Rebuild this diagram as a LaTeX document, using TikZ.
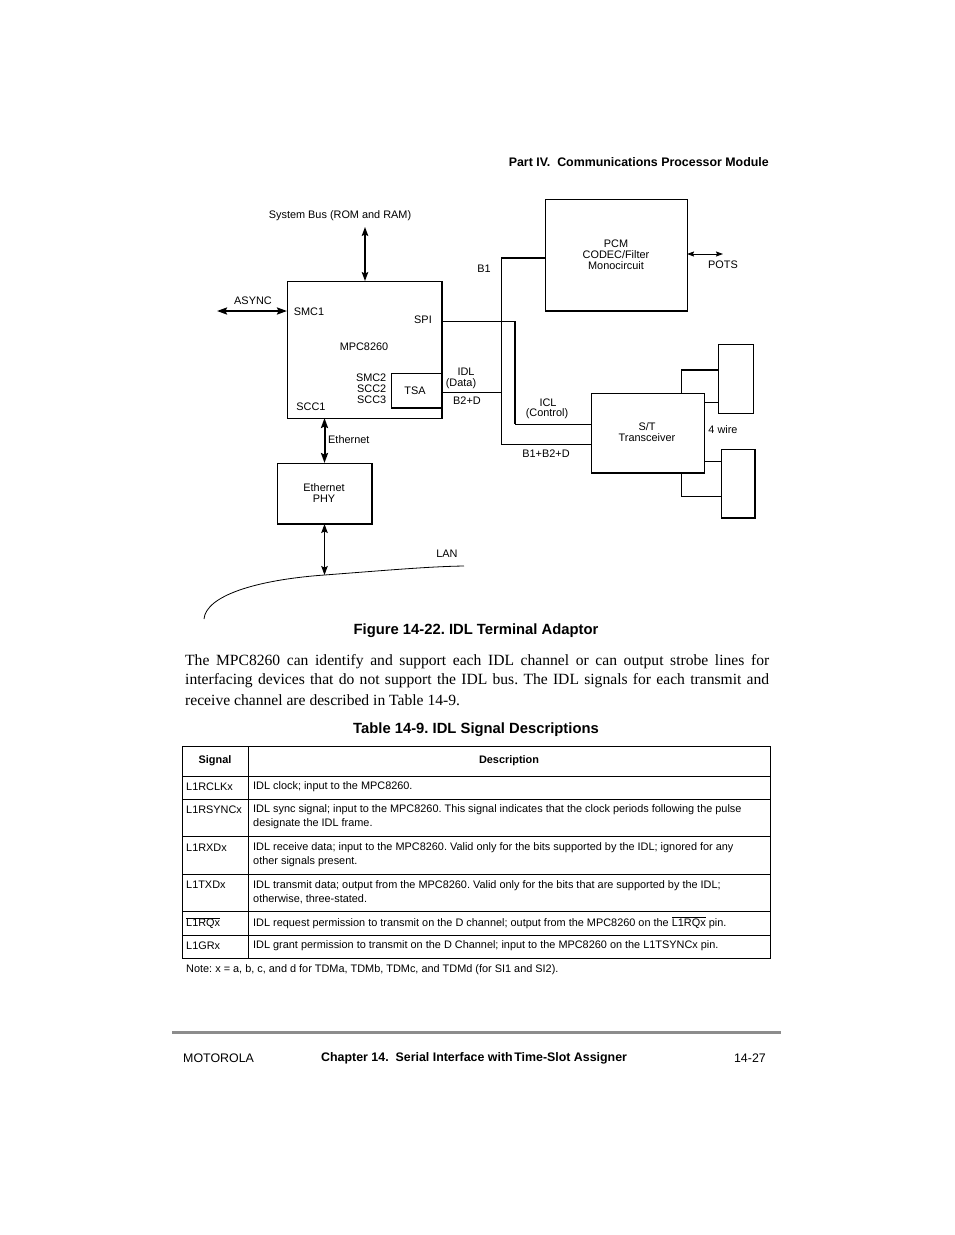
\documentclass[tikz,border=0pt]{standalone}
\usepackage{fontspec}
\setmainfont{Liberation Serif}
\setsansfont{Liberation Sans}
\usetikzlibrary{arrows.meta}
\frenchspacing
\newcommand\dfont{\sffamily\fontsize{10.9}{11}\selectfont}
\newcommand\tfont{\sffamily\fontsize{10.9}{14}\selectfont}
\newcommand\capfont{\sffamily\bfseries\fontsize{14.8}{16}\selectfont}
\newcommand\hfont{\sffamily\fontsize{12.4}{14}\selectfont}
\newcommand\bodyfont{\rmfamily\fontsize{15.6}{19}\selectfont}
\newcommand\ovl[1]{$\overline{\hbox{#1}}$}
\begin{document}
\begin{tikzpicture}[x=1pt,y=-1pt,
  box/.style={draw, line width=1pt, inner sep=0pt, outer sep=0pt},
  lbl/.style={font=\dfont, inner sep=0pt, align=center, yshift=-1pt},
  wire/.style={line width=1pt},
  heavy/.style={line width=2pt},
  dbl/.style={{Stealth[length=9pt,width=6.5pt,inset=1.5pt]}-{Stealth[length=9pt,width=6.5pt,inset=1.5pt]}, line width=1.3pt},
  dblthick/.style={{Stealth[length=10pt,width=7pt,inset=1.5pt]}-{Stealth[length=10pt,width=7pt,inset=1.5pt]}, line width=2pt},
  dblsmall/.style={{Stealth[length=7pt,width=5pt,inset=1pt]}-{Stealth[length=7pt,width=5pt,inset=1pt]}, line width=1pt},
  tline/.style={line width=0.9pt},
  ttext/.style={font=\tfont, inner sep=0pt, anchor=west, align=left, yshift=-1pt},
]
\useasboundingbox[fill=white] (0,0) rectangle (954,1235);

% ---------- header ----------
\node[font=\hfont\bfseries, inner sep=0pt, anchor=east, yshift=-1pt] (hdr) at (769,161) {Part IV.\ \ Communications Processor Module};

% ---------- diagram boxes ----------
\node[box, minimum width=155, minimum height=137] (mpc) at (364.5,349.5) {};
\node[box, minimum width=51, minimum height=35] (tsa) at (416.5,390.5) {};
\node[box, minimum width=142, minimum height=112] (pcm) at (616,255) {};
\node[box, minimum width=113, minimum height=80] (st) at (647.5,433) {};
\node[box, minimum width=95, minimum height=61] (phy) at (324.5,493.5) {};
\node[box, minimum width=35, minimum height=69] (ra) at (735.5,378.5) {};
\node[box, minimum width=34, minimum height=69] (rb) at (738,483.5) {};

% heavier right / bottom edges
\draw[heavy] (mpc.north east) -- (mpc.south east);
\draw[heavy] (tsa.south west) -- (tsa.south east);
\draw[heavy] (phy.north east) -- (phy.south east) -- (phy.south west);
\draw[heavy] (pcm.south west) -- (pcm.south east);
\draw[heavy] (st.south west) -- (st.south east);
\draw[heavy] (rb.north east) -- (rb.south east) -- (rb.south west);

% ---------- texts inside boxes ----------
\node[lbl] (tmpc) at (364,346) {MPC8260};
\node[lbl] (ttsa) at (415,390) {TSA};
\node[lbl] (tpcm) at (616,254) {PCM\\CODEC/Filter\\Monocircuit};
\node[lbl] (tst) at (647,431.5) {S/T\\Transceiver};
\node[lbl] (tphy) at (324,492.5) {Ethernet\\PHY};

% ---------- labels ----------
\node[lbl] (lsys) at (340,215) {System Bus (ROM and RAM)};
\node[lbl] (lasync) at (253,300) {ASYNC};
\node[lbl] (lsmc1) at (309,311) {SMC1};
\node[lbl] (lspi) at (423,319) {SPI};
\node[lbl, anchor=east, align=right] (lsmc2) at (386.5,388) {SMC2\\SCC2\\SCC3};
\node[lbl] (lscc1) at (311,406) {SCC1};
\node[lbl] (lidl) at (466,371) {IDL};
\node[lbl] (ldata) at (461,383) {(Data)};
\node[lbl] (lb2d) at (467,400) {B2+D};
\node[lbl] (lb1) at (484,268) {B1};
\node[lbl] (lpots) at (723,264) {POTS};
\node[lbl] (licl) at (548,402) {ICL};
\node[lbl] (lctl) at (547,413) {(Control)};
\node[lbl] (lb1b2d) at (546,453) {B1+B2+D};
\node[lbl] (l4w) at (723,429) {4 wire};
\node[lbl, anchor=west] (leth) at (328,439) {Ethernet};
\node[lbl] (llan) at (447,553) {LAN};

% ---------- coordinates ----------
\coordinate (sb) at (365,227);
\coordinate (as) at (217,311);
\coordinate (lanpt) at (324.5,575);
\coordinate (pots) at (723,254);
\coordinate (b1top) at (501,258);
\coordinate (jb) at (501,444);
\coordinate (idl) at (501,392);
\coordinate (spi1) at (515,321);
\coordinate (spi2) at (515,424);
\coordinate (w1) at (681,370);
\coordinate (w2) at (700,402);
\coordinate (w3) at (700,461);
\coordinate (w4) at (681,496);
\coordinate (lanA) at (204,619);
\coordinate (lanB) at (464,566);

% ---------- connectors ----------
\draw[dbl] (sb) -- (sb |- mpc.north);
\draw[dblthick] (as) -- (as -| mpc.west);
\draw[dblthick] (phy.north) -- (phy.north |- mpc.south);
\draw[dbl] (phy.south) -- (lanpt);
\draw[dblsmall] (pots -| pcm.east) -- (pots);
\draw[wire] (pcm.west |- b1top) -- (b1top) -- (jb) -- (jb -| st.west);
\draw[heavy] (pcm.west |- b1top) -- (b1top);
\draw[wire] (mpc.east |- idl) -- (idl);
\draw[wire] (mpc.east |- spi1) -- (spi1) -- (spi2) -- (spi2 -| st.west);
\draw[heavy] (spi1) -- (spi2);
\draw[wire] (st.north -| w1) -- (w1) -- (w1 -| ra.west);
\draw[heavy] (w1) -- (w1 -| ra.west);
\draw[wire] (st.east |- w2) -- (ra.west |- w2);
\draw[wire] (st.east |- w3) -- (rb.west |- w3);
\draw[wire] (st.south -| w4) -- (w4) -- (w4 -| rb.west);
\draw[line width=0.8pt] (lanA) .. controls (206,596) and (255,580) .. (lanpt) .. controls (390,570) and (430,566.5) .. (lanB);

% ---------- caption & body ----------
\node[font=\capfont, inner sep=0pt, yshift=-1pt] (cap) at (476,630) {Figure 14-22. IDL Terminal Adaptor};
\node[font=\bodyfont, inner sep=0pt, anchor=west] (body1) at (185,662) {\makebox[584pt][s]{The MPC8260 can identify and support each IDL channel or can output strobe lines for}};
\node[font=\bodyfont, inner sep=0pt, anchor=west] (body2) at (185,681) {\makebox[584pt][s]{interfacing devices that do not support the IDL bus. The IDL signals for each transmit and}};
\node[font=\bodyfont, inner sep=0pt, anchor=west] (body3) at (185,700) {receive channel are described in Table 14-9.};
\node[font=\capfont, inner sep=0pt, yshift=-1pt] (ttitle) at (476,729) {Table 14-9. IDL Signal Descriptions};

% ---------- table ----------
\draw[tline] (182,746) rectangle (770,958);
\draw[tline] (248,746) -- (248,958);
\foreach \yy in {776,799,836,874,911,935} \draw[tline] (182,\yy) -- (770,\yy);
\node[font=\tfont\bfseries, inner sep=0pt, yshift=-1pt] (hsig) at (215,760) {Signal};
\node[font=\tfont\bfseries, inner sep=0pt, yshift=-1pt] (hdesc) at (509,760) {Description};

\node[ttext] (s1) at (186,786) {L1RCLKx};
\node[ttext] (d1) at (253,786) {IDL clock; input to the MPC8260.};
\node[ttext] (s2) at (186,809) {L1RSYNCx};
\node[ttext] (d2) at (253,816) {IDL sync signal; input to the MPC8260. This signal indicates that the clock periods following the pulse\\designate the IDL frame.};
\node[ttext] (s3) at (186,847) {L1RXDx};
\node[ttext] (d3) at (253,854) {IDL receive data; input to the MPC8260. Valid only for the bits supported by the IDL; ignored for any\\other signals present.};
\node[ttext] (s4) at (186,884) {L1TXDx};
\node[ttext] (d4) at (253,891) {IDL transmit data; output from the MPC8260. Valid only for the bits that are supported by the IDL;\\otherwise, three-stated.};
\node[ttext] (s5) at (186,922) {\ovl{L1RQx}};
\node[ttext] (d5) at (253,922) {IDL request permission to transmit on the D channel; output from the MPC8260 on the \ovl{L1RQx} pin.};
\node[ttext] (s6) at (186,945) {L1GRx};
\node[ttext] (d6) at (253,945) {IDL grant permission to transmit on the D Channel; input to the MPC8260 on the L1TSYNCx pin.};
\node[ttext] (note) at (186,969) {Note: x = a, b, c, and d for TDMa, TDMb, TDMc, and TDMd (for SI1 and SI2).};

% ---------- footer ----------
\draw[line width=3pt, color=black!45] (172,1032) -- (781,1032);
\node[font=\hfont, inner sep=0pt, anchor=west, yshift=-1pt] (fmot) at (183,1057) {MOTOROLA};
\node[font=\hfont\bfseries, inner sep=0pt, anchor=west, yshift=-1pt] (fchap) at (321,1057) {Chapter 14.\ \ Serial Interface with\hspace{1.5pt}Time-Slot Assigner};
\node[font=\hfont, inner sep=0pt, anchor=east, yshift=-1pt] (fpage) at (766,1057) {14-27};
\end{tikzpicture}
\end{document}
